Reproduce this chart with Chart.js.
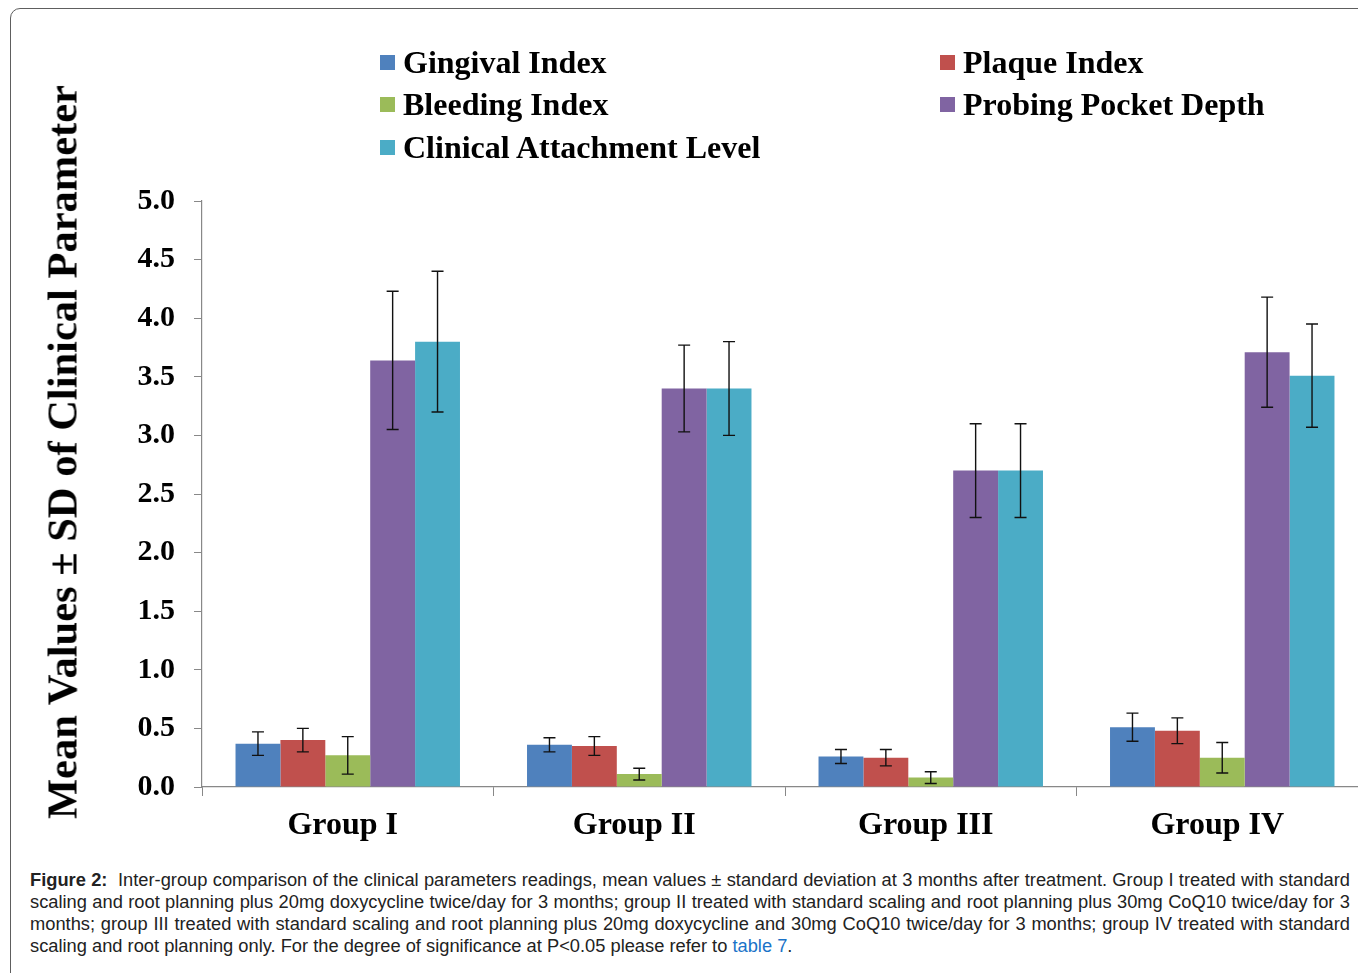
<!DOCTYPE html>
<html>
<head>
<meta charset="utf-8">
<script src="https://cdn.jsdelivr.net/npm/chart.js@4.4.1/dist/chart.umd.min.js"></script>
<style>
  html, body { margin: 0; padding: 0; background: #fff; overflow: hidden; }
  body { width: 1358px; height: 973px; position: relative; }
  #frame {
    position: absolute; left: 10px; top: 8px; width: 1400px; height: 1000px;
    border: 1.6px solid #5e5e5e; border-radius: 10px; box-sizing: border-box;
  }
  #wrap { position: absolute; left: 0; top: 0; width: 1380px; height: 860px; }
  #yTitle {
    position: absolute; left: 62px; top: 452px;
    transform: translate(-50%, -50%) rotate(-90deg);
    white-space: nowrap;
    font: bold 42.5px "Liberation Serif", "Times New Roman", serif;
    color: #000;
  }
  #legend {
    position: absolute; left: 380px; top: 41px;
    display: grid; grid-template-columns: 560px auto; grid-auto-rows: 42.5px;
    font: bold 32px "Liberation Serif", "Times New Roman", serif;
    color: #000;
  }
  #legend .item { display: flex; align-items: center; white-space: nowrap; }
  #legend .box { width: 15px; height: 15px; margin-right: 8px; }
  #caption {
    position: absolute; left: 30px; top: 869px; width: 1320px;
    font: 18.3px "Liberation Sans", Arial, sans-serif; line-height: 22px;
    text-align: justify; color: #222;
  }
  #caption a { color: #1a73c8; text-decoration: none; }
</style>
</head>
<body>
<div id="frame"></div>
<div id="wrap"><canvas id="clinChart"></canvas></div>
<div id="yTitle">Mean Values ± SD of Clinical Parameter</div>
<div id="legend"></div>
<div id="caption"><b>Figure 2:</b>&nbsp; Inter-group comparison of the clinical parameters readings, mean values ± standard deviation at 3 months after treatment. Group I treated with standard scaling and root planning plus 20mg doxycycline twice/day for 3 months; group II treated with standard scaling and root planning plus 30mg CoQ10 twice/day for 3 months; group III treated with standard scaling and root planning plus 20mg doxycycline and 30mg CoQ10 twice/day for 3 months; group IV treated with standard scaling and root planning only. For the degree of significance at P&lt;0.05 please refer to <a href="#">table 7</a>.</div>
<script>
// groups on the x axis
const groups = ['Group I', 'Group II', 'Group III', 'Group IV']
const yTicks = [0, 0.5, 1, 1.5, 2, 2.5, 3, 3.5, 4, 4.5, 5]

// means
const gingivalIndex = [0.37, 0.36, 0.26, 0.51]
const plaqueIndex = [0.40, 0.35, 0.25, 0.48]
const bleedingIndex = [0.27, 0.11, 0.08, 0.25]
const probingDepth = [3.64, 3.40, 2.70, 3.71]
const attachLevel = [3.80, 3.40, 2.70, 3.51]

// standard deviations (error bars)
const gingivalSD = [0.10, 0.06, 0.06, 0.12]
const plaqueSD = [0.10, 0.08, 0.07, 0.11]
const bleedingSD = [0.16, 0.05, 0.05, 0.13]
const probingSD = [0.59, 0.37, 0.40, 0.47]
const attachSD = [0.60, 0.40, 0.40, 0.44]

const serif = '"Liberation Serif", "Times New Roman", serif'

// draws the ± SD whiskers using the y scale of the chart
const errorBars = {
  id: 'errorBars',
  afterDatasetsDraw(chart) {
    const ctx = chart.ctx
    const y = chart.scales.y
    ctx.save()
    ctx.strokeStyle = '#111'
    ctx.lineWidth = 1.4
    chart.data.datasets.forEach((ds, i) => {
      const meta = chart.getDatasetMeta(i)
      meta.data.forEach((bar, j) => {
        const v = ds.data[j], sd = ds.sd[j]
        const top = y.getPixelForValue(v + sd)
        const bot = y.getPixelForValue(v - sd)
        ctx.beginPath()
        ctx.moveTo(bar.x, top); ctx.lineTo(bar.x, bot)
        ctx.moveTo(bar.x - 6, top); ctx.lineTo(bar.x + 6, top)
        ctx.moveTo(bar.x - 6, bot); ctx.lineTo(bar.x + 6, bot)
        ctx.stroke()
      })
    })
    ctx.restore()
  }
}

const clinChart = new Chart(document.getElementById('clinChart'), {
  type: 'bar',
  data: {
    labels: groups,
    datasets: [
      { label: 'Gingival Index', data: gingivalIndex, sd: gingivalSD, backgroundColor: '#4F81BD' },
      { label: 'Plaque Index', data: plaqueIndex, sd: plaqueSD, backgroundColor: '#C0504D' },
      { label: 'Bleeding Index', data: bleedingIndex, sd: bleedingSD, backgroundColor: '#9BBB59' },
      { label: 'Probing Pocket Depth', data: probingDepth, sd: probingSD, backgroundColor: '#8064A2' },
      { label: 'Clinical Attachment Level', data: attachLevel, sd: attachSD, backgroundColor: '#4BACC6' }
    ]
  },
  options: {
    responsive: true,
    maintainAspectRatio: false,
    animation: false,
    categoryPercentage: 0.77,
    barPercentage: 1.0,
    layout: { padding: { left: 0, top: 201, right: 12, bottom: 13 } },
    plugins: { legend: { display: false }, tooltip: { enabled: false } },
    scales: {
      x: {
        grid: { drawOnChartArea: false, color: '#888', tickLength: 9, offset: true },
        border: { color: '#888', width: 1.2 },
        ticks: { color: '#000', font: { family: serif, size: 32, weight: 'bold' }, padding: 11, labelOffset: -5 },
        afterFit(scale) { scale.height = 60 }
      },
      y: {
        min: 0,
        max: 5,
        afterBuildTicks(scale) { scale.ticks = yTicks.map(v => ({ value: v })) },
        grid: { drawOnChartArea: false, color: '#888', tickLength: 8 },
        border: { color: '#888', width: 1.2 },
        ticks: {
          color: '#000',
          padding: 19,
          font: { family: serif, size: 30, weight: 'bold' },
          callback: v => Number(v).toFixed(1)
        },
        afterFit(scale) { scale.width = 202 }
      }
    }
  },
  plugins: [errorBars]
})

// two-column legend like the original figure
const legendEl = document.getElementById('legend')
clinChart.data.datasets.forEach(ds => {
  const item = document.createElement('div')
  item.className = 'item'
  item.innerHTML = '<span class="box" style="background:' + ds.backgroundColor + '"></span>' + ds.label
  legendEl.appendChild(item)
})
</script>
</body>
</html>
